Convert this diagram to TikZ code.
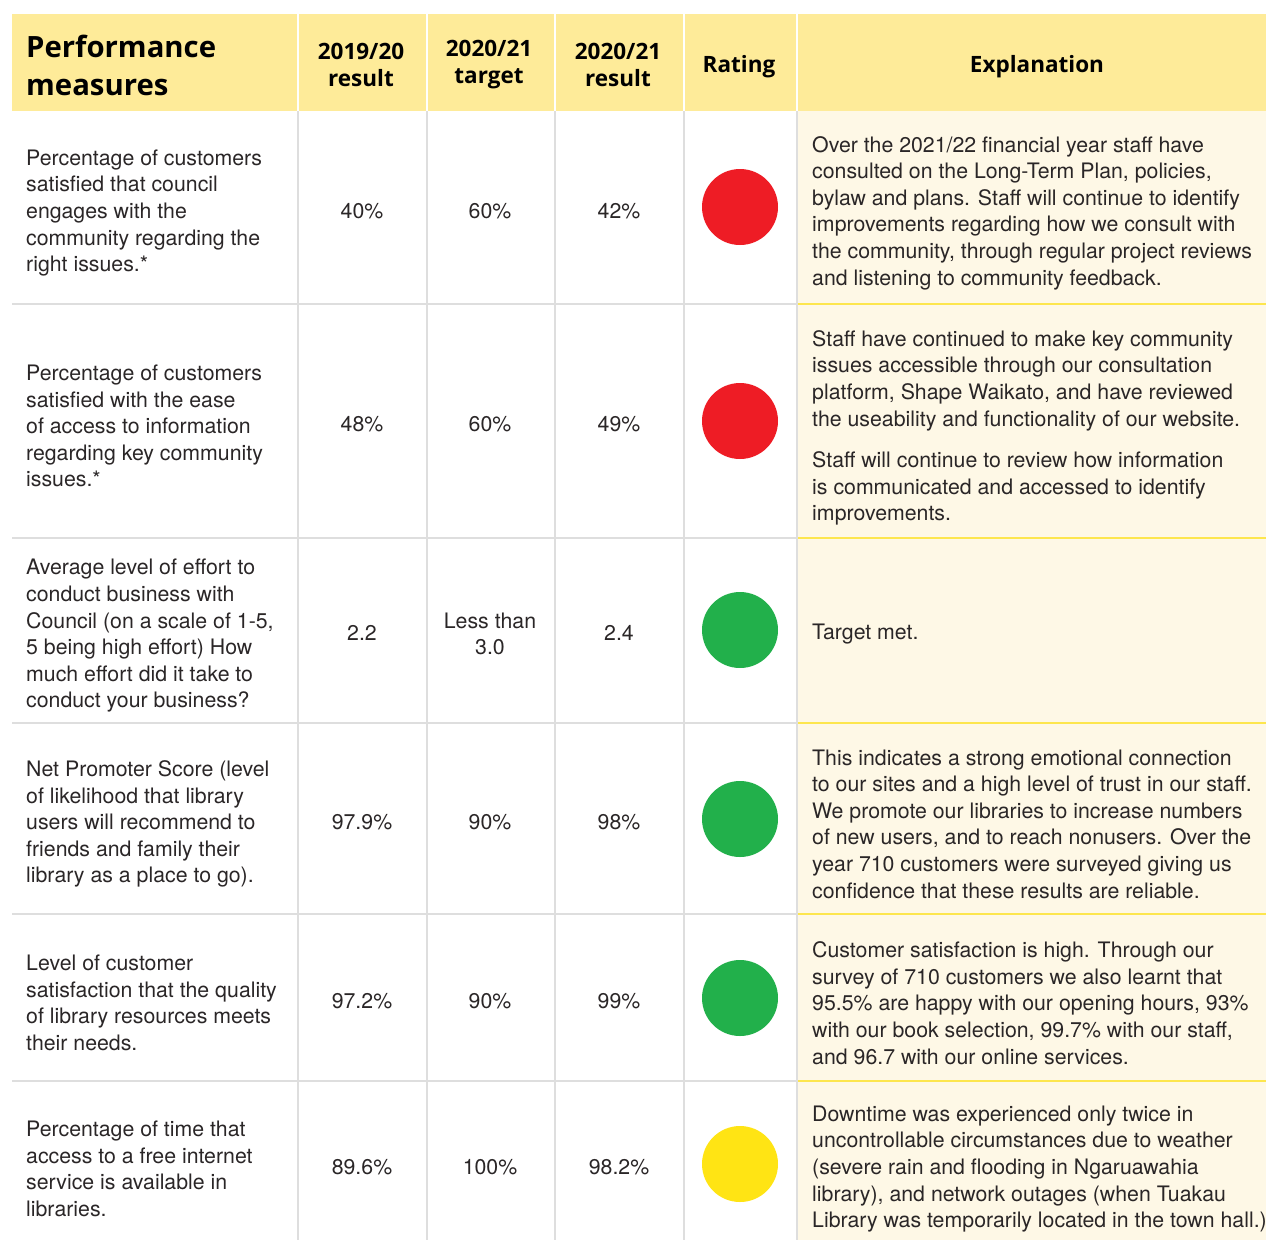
\documentclass[tikz,border=0pt]{standalone}
\usepackage{fontspec}
\setmainfont{TeX Gyre Heros}
\newfontfamily\hdrfont{Open Sans}
\usetikzlibrary{positioning}

\definecolor{hdrfill}{HTML}{FEEB99}
\definecolor{explfill}{HTML}{FEF8E6}
\definecolor{gridgray}{HTML}{DEDEDE}
\definecolor{rowyellow}{HTML}{FDE64E}
\definecolor{txt}{HTML}{2A2627}
\definecolor{ratered}{HTML}{EE1C25}
\definecolor{rategreen}{HTML}{22B04B}
\definecolor{rateyellow}{HTML}{FFE414}

\tikzset{
  hdr/.style={inner sep=0pt, align=center, font=\hdrfont\bfseries\fontsize{22.5}{27}\selectfont},
  body/.style={inner sep=0pt, anchor=west, align=left, text=txt, font=\fontsize{21.3}{26.6}\selectfont},
  val/.style={inner sep=0pt, align=center, text=txt, font=\fontsize{21.3}{26.6}\selectfont},
  dot/.style={circle, inner sep=0pt, minimum size=76pt},
  gridline/.style={draw=gridgray, line width=2pt},
  yline/.style={draw=rowyellow, line width=2.2pt}
}

\begin{document}
\begin{tikzpicture}[x=1pt, y=-1pt]
  \useasboundingbox (0,0) rectangle (1266,1240);

  % backgrounds
  \fill[explfill] (798,111) rectangle (1266,1240);
  \fill[hdrfill] (12,14) rectangle (297,111);
  \fill[hdrfill] (299,14) rectangle (426,111);
  \fill[hdrfill] (428,14) rectangle (554,111);
  \fill[hdrfill] (556,14) rectangle (683,111);
  \fill[hdrfill] (685,14) rectangle (796,111);
  \fill[hdrfill] (798,14) rectangle (1266,111);

  % grid
  \coordinate (v1t) at (298,111);  \coordinate (v1b) at (298,1240);
  \coordinate (v2t) at (427,111);  \coordinate (v2b) at (427,1240);
  \coordinate (v3t) at (555,111);  \coordinate (v3b) at (555,1240);
  \coordinate (v4t) at (684,111);  \coordinate (v4b) at (684,1240);
  \coordinate (v5t) at (797,111);  \coordinate (v5b) at (797,1240);
  \path[gridline]
  (v1t) -- (v1b)
  (v2t) -- (v2b)
  (v3t) -- (v3b)
  (v4t) -- (v4b);
  \path[gridline] (12,304) -- (797,304);
  \path[gridline] (12,538) -- (797,538);
  \path[gridline] (12,723) -- (797,723);
  \path[gridline] (12,914) -- (797,914);
  \path[gridline] (12,1081) -- (797,1081);
  \path[yline] (798,304) -- (1266,304);
  \path[yline] (798,538) -- (1266,538);
  \path[yline] (798,723) -- (1266,723);
  \path[yline] (798,914) -- (1266,914);
  \path[yline] (798,1081) -- (1266,1081);
  \path[gridline] (v5t) -- (v5b);

  % header
  \node[hdr, anchor=west, align=left, font=\hdrfont\bfseries\fontsize{29.3}{38}\selectfont] (hmeas) at (26,65) {Performance\\measures};
  \node[hdr] (hprev) at (361,64.5) {2019/20\\result};
  \node[hdr] (htarget) at (489,64.5) {2020/21\\target};
  \node[hdr] (hres) at (618,64.5) {2020/21\\result};
  \node[hdr] (hrate) at (739,67) {Rating};
  \node[hdr] (hexpl) at (1037,67) {Explanation};

  % row 1
  \node[body] (m1) at (26,213) {Percentage of customers\\satisfied that council\\engages with the\\community regarding the\\right issues.*};
  \node[val] (p1) at (362,211) {40\%};
  \node[val] (t1) at (490,211) {60\%};
  \node[val] (r1) at (619,211) {42\%};
  \node[dot, fill=ratered] (d1) at (740,207) {};
  \node[body] (e1) at (812,213) {Over the 2021/22 financial year staff have\\consulted on the Long-Term Plan, policies,\\bylaw and plans. Staff will continue to identify\\improvements regarding how we consult with\\the community, through regular project reviews\\and listening to community feedback.};

  % row 2
  \node[body] (m2) at (26,426) {Percentage of customers\\satisfied with the ease\\of access to information\\regarding key community\\issues.*};
  \node[val] (p2) at (362,424) {48\%};
  \node[val] (t2) at (490,424) {60\%};
  \node[val] (r2) at (619,424) {49\%};
  \node[dot, fill=ratered] (d2) at (740,421) {};
  \node[body] (e2) at (812,428) {Staff have continued to make key community\\issues accessible through our consultation\\platform, Shape Waikato, and have reviewed\\the useability and functionality of our website.\\[15pt]Staff will continue to review how information\\is communicated and accessed to identify\\improvements.};

  % row 3
  \node[body] (m3) at (26,636) {Average level of effort to\\conduct business with\\Council (on a scale of 1-5,\\5 being high effort) How\\much effort did it take to\\conduct your business?};
  \node[val] (p3) at (362,633) {2.2};
  \node[val] (t3) at (490,634) {Less than\\3.0};
  \node[val] (r3) at (619,633) {2.4};
  \node[dot, fill=rategreen] (d3) at (740,630) {};
  \node[body] (e3) at (812,634) {Target met.};

  % row 4
  \node[body] (m4) at (26,824) {Net Promoter Score (level\\of likelihood that library\\users will recommend to\\friends and family their\\library as a place to go).};
  \node[val] (p4) at (362,822) {97.9\%};
  \node[val] (t4) at (490,822) {90\%};
  \node[val] (r4) at (619,822) {98\%};
  \node[dot, fill=rategreen] (d4) at (740,819) {};
  \node[body] (e4) at (812,824) {This indicates a strong emotional connection\\to our sites and a high level of trust in our staff.\\We promote our libraries to increase numbers\\of new users, and to reach nonusers. Over the\\year 710 customers were surveyed giving us\\confidence that these results are reliable.};

  % row 5
  \node[body] (m5) at (26,1003) {Level of customer\\satisfaction that the quality\\of library resources meets\\their needs.};
  \node[val] (p5) at (362,1001) {97.2\%};
  \node[val] (t5) at (490,1001) {90\%};
  \node[val] (r5) at (619,1001) {99\%};
  \node[dot, fill=rategreen] (d5) at (740,998) {};
  \node[body] (e5) at (812,1003) {Customer satisfaction is high. Through our\\survey of 710 customers we also learnt that\\95.5\% are happy with our opening hours, 93\%\\with our book selection, 99.7\% with our staff,\\and 96.7 with our online services.};

  % row 6
  \node[body] (m6) at (26,1169) {Percentage of time that\\access to a free internet\\service is available in\\libraries.};
  \node[val] (p6) at (362,1167) {89.6\%};
  \node[val] (t6) at (490,1167) {100\%};
  \node[val] (r6) at (619,1167) {98.2\%};
  \node[dot, fill=rateyellow] (d6) at (740,1164) {};
  \node[body] (e6) at (812,1169) {Downtime was experienced only twice in\\uncontrollable circumstances due to weather\\(severe rain and flooding in Ngaruawahia\\library), and network outages (when Tuakau\\Library was temporarily located in the town hall.)};
\end{tikzpicture}
\end{document}
